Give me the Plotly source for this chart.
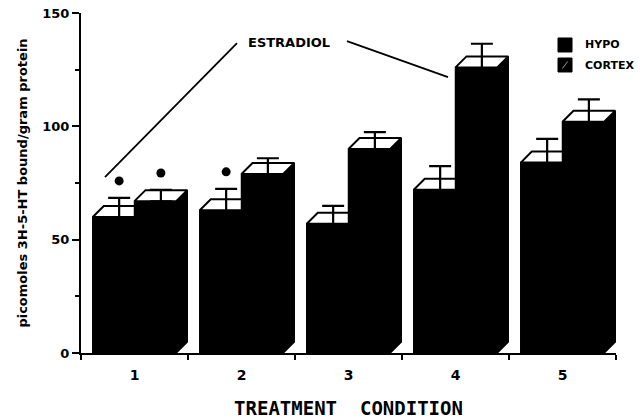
import plotly.graph_objects as go

# ---- data ----
conditions = [1, 2, 3, 4, 5]
hypo = [60, 63, 57, 72, 84]
hypo_err = [6, 7, 5.5, 8, 8]
cortex = [67, 79, 90, 126, 102]
cortex_err = [2.5, 4.5, 5, 8, 7.5]
hypo_sig = [True, True, False, False, False]
cortex_sig = [True, False, False, False, False]
y_ticks = [0, 50, 100, 150]
series_names = ["HYPO", "CORTEX"]

# ---- pseudo-3D geometry (style) ----
W = 0.39      # bar front width (category units)
DX = 0.103    # depth offset in x
DY = 4.85     # depth offset in y
SIG_GAP = 7.5

FONT = "DejaVu Sans"


def fronts(xs0, vals):
    X, Y = [], []
    for x0, v in zip(xs0, vals):
        X += [x0, x0 + W, x0 + W, x0, x0, None]
        Y += [0, 0, v, v, 0, None]
    return X, Y


def tops(xs0, vals):
    X, Y = [], []
    for x0, v in zip(xs0, vals):
        X += [x0, x0 + W, x0 + W + DX, x0 + DX, x0, None]
        Y += [v, v, v + DY, v + DY, v, None]
    return X, Y


def sides(xs0, vals):
    X, Y = [], []
    for x0, v in zip(xs0, vals):
        x1 = x0 + W
        X += [x1, x1, x1 + DX, x1 + DX, x1, None]
        Y += [0, v, v + DY, DY, 0, None]
    return X, Y


hx0 = [c - W for c in conditions]
cx0 = [c for c in conditions]

fig = go.Figure()


def poly(X, Y, fill, lw=1.5):
    fig.add_trace(go.Scatter(x=X, y=Y, mode="lines", fill="toself",
                             fillcolor=fill, line=dict(color="black", width=lw),
                             showlegend=False, hoverinfo="skip"))


# hypo bars
poly(*fronts(hx0, hypo), "black")
poly(*tops(hx0, hypo), "white", 2)
# cortex bars
poly(*fronts(cx0, cortex), "black")
poly(*sides(cx0, cortex), "black")
poly(*tops(cx0, cortex), "white", 2)

# error bars (centred on top face)
for xs0, vals, errs in [(hx0, hypo, hypo_err), (cx0, cortex, cortex_err)]:
    fig.add_trace(go.Scatter(
        x=[x0 + W / 2 + DX / 2 for x0 in xs0],
        y=[v + DY / 2 for v in vals],
        mode="markers", marker=dict(size=1, color="rgba(0,0,0,0)"),
        error_y=dict(type="data", array=errs, visible=True, color="black",
                     thickness=2.2, width=11),
        showlegend=False, hoverinfo="skip"))

# significance dots
sx, sy = [], []
for xs0, vals, errs, sig in [(hx0, hypo, hypo_err, hypo_sig),
                             (cx0, cortex, cortex_err, cortex_sig)]:
    for x0, v, e, s in zip(xs0, vals, errs, sig):
        if s:
            sx.append(x0 + W / 2 + DX / 2)
            sy.append(v + DY / 2 + e + SIG_GAP)
fig.add_trace(go.Scatter(x=sx, y=sy, mode="markers",
                         marker=dict(size=9, color="black"),
                         showlegend=False, hoverinfo="skip"))

# ---- legend (drawn in paper coordinates) ----
LEG_X0, LEG_X1 = 0.8916, 0.9178
LEG_ROWS = [(0.9265, 0.8853), (0.8676, 0.8265)]
LEG_TEXT_X = 0.9383
for name, (ya, yb) in zip(series_names, LEG_ROWS):
    fig.add_shape(type="rect", xref="paper", yref="paper",
                  x0=LEG_X0, x1=LEG_X1, y0=yb, y1=ya,
                  fillcolor="black", line=dict(color="black", width=1))
    fig.add_annotation(xref="paper", yref="paper", x=LEG_TEXT_X, y=(ya + yb) / 2,
                       xanchor="left", yanchor="middle", text=name, showarrow=False,
                       font=dict(family=FONT, size=11, color="black", weight="bold"))
# hatch hint on the CORTEX swatch
ya, yb = LEG_ROWS[1]
fig.add_shape(type="line", xref="paper", yref="paper",
              x0=LEG_X0 + 0.008, x1=LEG_X1 - 0.008, y0=yb + 0.01, y1=ya - 0.01,
              line=dict(color="#9a9a9a", width=1))

# ESTRADIOL annotation
label_pos = (2.444, 137.2)
fig.add_annotation(x=label_pos[0], y=label_pos[1], text="ESTRADIOL",
                   showarrow=False, font=dict(family=FONT, size=13, color="black", weight="bold"))
fig.add_shape(type="line", x0=0.724, y0=77.6, x1=1.958, y1=136.7,
              line=dict(color="black", width=1.8))
fig.add_shape(type="line", x0=2.986, y0=137.6, x1=3.93, y1=121.7,
              line=dict(color="black", width=1.8))

fig.update_layout(
    width=640, height=420,
    margin=dict(l=81, r=24, t=13, b=67),
    paper_bgcolor="white", plot_bgcolor="white",
    showlegend=False,
    xaxis=dict(range=[0.5, 5.5], tickvals=conditions,
               ticktext=[str(c) for c in conditions],
               ticks="", showgrid=False, zeroline=False, automargin=False,
               showline=True, linecolor="black", linewidth=2,
               ticklabelstandoff=8,
               tickfont=dict(family=FONT, size=14, color="black", weight="bold"),
               minor=dict(tick0=0.5, dtick=1, ticks="outside", ticklen=5,
                          tickcolor="black", tickwidth=1.5),
               title=dict(text="TREATMENT  CONDITION", standoff=20,
                          font=dict(family="DejaVu Sans Mono", size=19,
                                    color="black", weight="bold"))),
    yaxis=dict(range=[0, 150], tickvals=y_ticks, showgrid=False, zeroline=False,
               automargin=False, ticklabeloverflow="allow",
               showline=True, linecolor="black", linewidth=2,
               ticks="outside", ticklen=7, tickwidth=2, tickcolor="black",
               tickfont=dict(family=FONT, size=13, color="black", weight="bold"),
               minor=dict(tick0=25, dtick=50, ticks="outside", ticklen=4,
                          tickcolor="black", tickwidth=1.5),
               title=dict(text="picomoles 3H-5-HT bound/gram protein", standoff=12,
                          font=dict(family=FONT, size=13, color="black", weight="bold"))),
)

fig.write_html("out.html", config={"displayModeBar": False},
               post_script="document.body.style.margin='0';document.body.style.overflow='hidden';")
